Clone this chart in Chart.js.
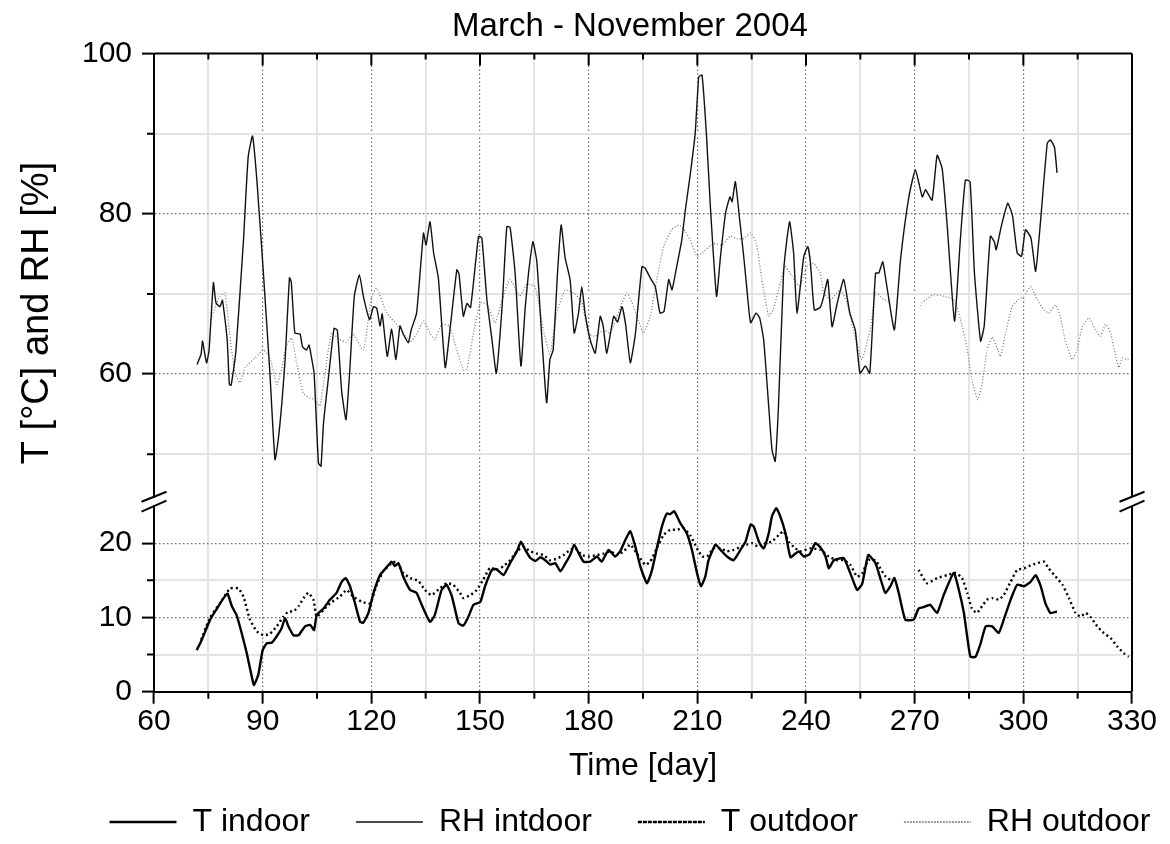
<!DOCTYPE html>
<html>
<head>
<meta charset="utf-8">
<script src="https://cdn.jsdelivr.net/npm/chart.js@4.4.1/dist/chart.umd.min.js"></script>
<style>
html,body{margin:0;padding:0;background:#fff;}
#wrap{width:1170px;height:844px;}
</style>
</head>
<body>
<div id="wrap"><canvas id="c" width="1170" height="844"></canvas></div>
<script>
// ---------- text ----------
const chartTitle = 'March - November 2004';
const xTitle = 'Time [day]';
const yTitle = 'T [\u00B0C] and RH [%]';
const seriesNames = ['T indoor', 'RH intdoor', 'T outdoor', 'RH outdoor'];

// ---------- ticks ----------
const xTickValues = [60,75,90,105,120,135,150,165,180,195,210,225,240,255,270,285,300,315,330];
const xTickLabels = [60,90,120,150,180,210,240,270,300,330];
const rhTickValues = [50,60,70,80,90,100];
const rhTickLabels = [60,80,100];
const tTickValues = [0,5,10,15,20];
const tTickLabels = [0,10,20];

// ---------- data (day, value) ----------
const tInDays = [71.8,73.2,75.5,77.4,79.2,80.3,81.5,82.8,84.2,85.6,87.0,87.6,88.8,90.0,91.1,92.5,93.8,95.2,96.2,97.1,98.5,99.9,101.7,103.1,104.2,104.9,106.8,108.6,110.4,111.8,112.9,114.1,115.5,116.9,117.8,119.2,120.6,122.4,124.3,125.6,126.5,127.5,128.8,130.7,132.5,133.9,136.2,137.5,139.4,140.8,142.2,144.1,145.4,146.8,148.2,150.1,151.4,153.3,154.5,156.5,158.3,160.2,161.3,162.5,163.9,165.3,166.7,168.0,169.4,170.8,172.2,173.5,174.9,176.0,177.2,178.6,180.4,182.3,183.6,185.5,187.3,188.7,190.1,191.5,192.9,194.3,196.1,197.5,198.9,200.2,201.6,202.5,203.6,205.3,207.1,208.5,209.9,211.0,212.2,213.1,215.0,216.4,218.2,220.0,221.9,223.3,224.7,225.6,227.0,228.3,229.7,230.6,231.8,232.9,234.3,235.7,237.1,238.0,239.4,241.0,242.6,244.0,245.4,246.3,247.7,250.4,252.2,254.1,255.5,257.2,259.2,260.5,261.9,263.3,264.4,265.6,267.4,269.7,271.1,272.5,274.3,276.2,278.0,280.8,282.2,283.6,284.5,285.4,286.8,288.2,289.6,291.4,293.2,294.6,296.5,298.3,300.2,302.0,303.4,304.8,306.1,307.5,309.3];
const tInVals = [5.6,7.0,9.7,11.2,12.6,13.2,11.5,10.3,7.9,5.2,2.0,0.9,2.3,5.6,6.5,6.6,7.4,8.5,9.9,8.8,7.6,7.6,8.8,9.0,8.3,10.3,11.2,12.4,13.3,14.8,15.3,14.2,11.9,9.4,9.3,10.6,13.3,15.7,16.8,17.5,16.9,17.3,15.5,13.7,13.3,11.7,9.4,10.3,13.7,14.4,12.9,9.2,8.9,10.1,11.7,12.1,14.2,16.4,16.5,15.7,17.3,18.9,20.2,19.1,18.0,17.6,18.1,17.7,17.1,17.3,16.2,17.2,18.4,19.8,18.7,17.5,17.5,18.2,17.5,19.1,18.2,18.9,20.4,21.6,19.5,16.8,14.6,16.4,19.5,22.2,24.0,23.9,24.3,22.7,21.3,19.1,16.0,14.2,15.5,17.7,19.8,19.1,18.2,17.7,19.1,20.2,22.5,22.2,20.2,19.3,21.3,23.6,24.7,23.6,21.4,18.1,18.6,18.9,18.2,18.5,20.0,19.4,18.2,16.6,17.7,18.0,16.0,13.7,14.5,18.4,17.3,15.3,13.3,14.2,15.3,13.3,9.7,9.7,11.2,11.4,11.7,10.6,13.0,16.0,13.7,10.6,7.4,4.7,4.7,6.5,8.8,8.8,7.9,9.7,12.4,14.4,14.2,14.8,15.7,14.2,11.9,10.6,10.8];

const rhInDays = [71.9,73.0,73.4,74.5,75.2,76.4,77.1,78.2,78.9,80.2,80.8,81.3,82.6,84.7,86.0,87.2,88.4,90.2,92.0,93.4,94.3,95.3,96.2,97.4,97.9,98.9,100.3,101.0,102.1,102.8,103.5,104.2,105.4,106.1,106.8,108.2,109.7,110.6,111.8,113.0,114.0,115.3,116.7,117.8,119.5,120.6,121.5,122.4,123.0,124.4,125.6,126.8,127.9,128.8,130.2,131.0,132.5,134.4,135.1,136.2,137.2,138.5,140.4,141.8,143.6,144.2,145.4,146.4,147.4,149.6,150.5,151.9,153.3,154.5,156.1,157.4,158.3,159.7,161.3,162.5,163.4,164.6,165.7,167.1,168.4,169.3,170.2,171.4,172.4,173.5,174.9,176.0,177.2,178.1,179.0,180.4,181.8,183.2,184.0,185.0,186.9,188.0,189.2,190.2,191.5,192.9,194.7,195.6,197.0,198.4,199.7,200.8,202.1,203.0,204.3,205.7,206.7,208.1,209.4,210.4,211.3,212.5,213.6,215.3,216.4,217.8,219.0,219.6,220.5,221.7,222.8,223.7,224.7,226.2,227.2,228.3,229.7,230.6,231.5,232.4,233.8,234.7,235.5,236.6,237.5,239.4,240.5,241.2,242.3,243.9,244.8,246.0,247.2,248.6,250.4,252.1,253.6,254.9,256.4,257.6,259.2,260.1,261.2,262.3,264.4,266.1,268.4,270.2,272.1,273.0,274.8,276.2,277.6,279.0,281.0,282.6,284.0,285.3,286.5,288.2,289.2,290.9,292.0,292.5,293.9,295.7,297.0,298.3,299.5,300.6,302.1,303.4,304.7,306.6,307.5,308.6,309.3];
const rhInVals = [61.2,62.5,64.1,61.4,63.0,71.4,68.9,68.4,69.2,64.3,58.7,58.6,62.8,76.7,87.1,89.7,84.2,72.6,60.1,49.3,51.8,56.4,61.8,72.0,71.5,65.1,65.0,63.4,63.0,63.6,62.0,60.1,48.9,48.5,53.9,59.7,65.7,65.5,57.9,54.3,60.1,69.7,72.4,69.7,66.8,68.4,68.2,66.0,67.5,62.2,65.6,61.8,66.0,65.0,63.9,65.5,67.6,77.6,76.1,79.0,75.1,72.0,60.8,65.9,73.0,72.5,67.2,68.8,68.3,77.2,77.0,69.3,64.3,60.1,68.4,78.4,78.3,72.6,61.0,68.4,72.6,76.5,74.0,64.3,56.4,61.8,63.0,72.6,78.6,74.5,71.7,65.1,67.6,70.9,67.6,64.3,62.6,67.2,66.0,62.6,67.2,66.5,68.4,66.2,61.4,65.0,73.4,73.2,72.0,70.9,67.6,67.8,71.8,70.5,73.4,76.7,80.5,85.1,90.0,97.1,97.3,90.0,80.9,69.7,74.7,80.1,82.1,81.5,84.0,79.2,74.7,70.5,66.4,67.6,67.0,64.3,56.0,50.6,49.1,56.0,72.6,76.7,79.0,75.0,67.6,74.7,75.9,74.0,68.0,68.3,69.5,71.8,65.9,68.8,71.8,67.6,65.5,60.1,61.0,60.1,72.6,72.6,74.0,71.0,65.5,74.3,82.1,85.5,82.1,83.0,81.7,87.3,85.6,78.4,66.6,76.7,84.2,84.0,72.6,64.1,66.0,77.2,76.5,75.5,78.4,81.3,79.8,75.1,74.7,78.0,77.0,72.8,78.8,88.8,89.2,88.3,85.1];

const tOutDays = [73.0,75.5,78.2,81.0,83.3,84.7,86.5,88.4,90.2,92.0,93.9,95.7,97.1,98.5,99.9,101.3,102.6,104.0,104.9,106.8,108.6,111.3,113.2,115.0,117.4,119.7,121.5,123.3,125.6,127.0,128.8,130.7,133.0,134.8,136.6,138.9,140.8,142.6,144.5,145.4,147.3,149.1,150.9,152.8,154.7,156.5,158.3,160.2,162.0,163.9,165.7,167.5,169.4,171.2,173.1,174.9,176.3,178.1,179.9,182.3,184.1,186.0,187.8,189.7,191.5,193.3,195.6,197.0,198.8,200.7,202.5,204.4,206.2,208.1,209.9,211.3,212.7,214.5,216.4,218.2,220.0,221.9,223.7,225.1,226.9,228.8,230.6,232.5,233.8,235.2,236.6,238.4,241.2,244.0,246.3,248.6,250.4,252.2,254.1,255.5,257.2,259.2,260.5,262.0,264.0,267.5,271.1,273.4,276.2,279.0,281.3,283.1,284.5,285.8,287.2,288.6,290.0,291.4,293.2,294.6,296.5,298.3,300.2,302.0,303.8,305.7,307.0,308.9,310.8,312.6,314.4,315.8,317.2,318.5,320.4,322.2,324.1,325.9,327.7,329.1];
const tOutVals = [7.0,10.0,11.9,13.9,13.9,12.8,9.7,8.1,7.6,7.8,8.8,10.1,10.8,10.8,11.5,12.6,13.3,12.4,10.1,11.0,11.9,12.8,13.7,12.8,12.1,11.9,14.4,16.2,17.3,17.5,16.0,15.3,14.9,13.7,13.0,13.9,14.6,14.4,13.3,12.6,13.0,13.7,15.1,16.7,16.4,16.9,17.7,18.9,19.5,18.9,18.6,18.4,17.7,17.9,18.4,19.1,19.3,18.4,18.2,18.4,18.6,18.9,18.4,18.9,19.8,18.6,17.1,17.5,19.3,21.1,21.8,21.8,22.0,21.0,19.3,18.2,18.2,19.3,19.3,18.9,19.1,19.5,19.8,20.0,19.5,20.0,20.2,21.1,21.6,20.2,19.5,18.9,19.3,19.1,18.2,17.7,17.7,17.1,15.5,15.9,17.7,17.7,16.6,15.5,14.8,null,16.4,14.6,15.3,15.7,16.0,15.3,13.3,11.2,10.6,11.5,12.4,12.6,12.4,13.0,14.8,16.4,16.6,17.0,17.3,17.5,16.6,15.5,14.4,12.6,10.6,10.1,10.6,10.1,8.8,7.9,7.2,6.1,5.2,4.7];

const rhOutDays = [75.5,77.0,78.2,79.6,80.9,82.3,83.7,85.1,87.9,90.2,92.0,93.9,95.0,96.5,98.0,99.4,101.2,103.0,104.4,105.8,107.2,109.0,111.3,113.1,114.9,117.8,120.1,121.5,124.3,127.0,128.8,130.7,132.5,134.4,136.2,137.5,139.4,141.5,143.6,145.4,146.4,148.2,150.1,151.9,154.2,156.1,158.3,161.0,162.9,165.2,167.5,169.3,171.2,173.5,175.8,178.1,179.9,181.8,184.1,185.9,187.8,189.2,190.5,191.9,193.8,195.1,197.0,198.8,200.7,202.9,204.8,206.2,208.1,209.9,211.8,214.5,216.8,219.1,220.9,222.8,224.7,226.3,227.8,229.7,231.0,232.9,234.2,236.1,238.2,240.3,242.1,244.0,244.9,246.8,249.5,251.3,253.1,255.4,257.9,259.2,261.5,263.5,267.5,271.5,272.1,275.2,278.0,280.8,282.6,284.4,285.8,287.4,288.6,290.0,291.4,292.7,293.7,295.0,296.9,298.7,300.1,302.0,303.8,305.7,307.0,308.9,310.2,311.5,313.5,314.8,316.3,318.1,320.0,321.3,322.7,324.1,325.5,326.4,327.3,328.7,329.5];
const rhOutVals = [66.5,68.5,69.7,70.1,65.0,60.2,58.9,60.8,62.0,63.0,62.0,58.7,60.1,63.4,64.5,61.3,57.6,57.0,56.8,56.0,60.0,65.1,64.3,64.0,65.0,63.0,69.7,70.7,67.6,66.2,65.1,64.0,65.0,66.6,65.1,64.3,66.2,66.0,63.0,60.5,60.6,65.1,68.9,68.7,66.4,69.3,71.8,69.7,71.2,70.9,65.5,62.5,67.6,70.5,70.1,69.0,65.1,64.7,65.5,65.1,67.2,68.9,70.1,69.0,66.6,65.1,67.2,71.8,75.9,78.0,78.6,78.1,76.7,74.7,75.3,76.3,76.1,77.2,76.9,76.9,77.6,76.3,71.8,67.2,68.1,71.3,73.5,72.2,71.0,73.4,73.8,72.5,70.1,69.3,70.5,68.9,65.5,61.8,65.9,70.1,69.3,69.0,null,68.5,68.9,69.9,69.7,69.3,66.9,63.4,59.3,56.8,58.7,63.0,64.6,63.3,62.2,64.9,68.4,69.3,69.7,70.9,69.3,68.0,67.6,68.6,67.2,64.3,61.8,63.0,65.9,67.0,65.5,64.7,66.2,65.1,62.2,60.8,62.0,61.8,62.0];

const rhMinorTicks = [50,70,90];
const tMinorTicks = [5,15];

// ---------- helpers ----------
const pts = (days, vals) => days.map((d, i) => ({x: d, y: vals[i]}));
const FONT = "'Liberation Sans', Arial, Helvetica, sans-serif";
Chart.defaults.font.family = FONT;
Chart.defaults.color = '#000';

const MAJOR_GRID = '#6a6a6a';
const MINOR_GRID = '#e4e4e4';
const DOT = [1.5, 2.5];

const decor = {
  id: 'decor',
  afterDraw(chart) {
    const {ctx, chartArea: a, scales} = chart;
    const x = scales.x, yR = scales.yRH, yT = scales.yT;
    ctx.save();
    ctx.setLineDash([]);
    ctx.strokeStyle = '#000';
    ctx.lineWidth = 2;
    ctx.beginPath();
    ctx.moveTo(a.left, yR.top); ctx.lineTo(a.right, yR.top);
    ctx.moveTo(a.right, yR.top); ctx.lineTo(a.right, yR.bottom);
    ctx.moveTo(a.right, yT.top); ctx.lineTo(a.right, yT.bottom);
    ctx.stroke();
    ctx.beginPath();
    xTickValues.forEach(v => {
      const px = x.getPixelForValue(v);
      const major = xTickLabels.includes(v);
      if (v > x.min && v < x.max) {
        ctx.moveTo(px, yR.top); ctx.lineTo(px, yR.top + (major ? 12 : 6));
      }
      if (!major) { ctx.moveTo(px, a.bottom); ctx.lineTo(px, a.bottom + 7); }
    });
    rhMinorTicks.forEach(v => { const py = yR.getPixelForValue(v); ctx.moveTo(a.left - 7, py); ctx.lineTo(a.left, py); });
    tMinorTicks.forEach(v => { const py = yT.getPixelForValue(v); ctx.moveTo(a.left - 7, py); ctx.lineTo(a.left, py); });
    ctx.stroke();
    // axis breaks
    const c = (yR.bottom + yT.top) / 2;
    ctx.lineWidth = 2;
    [a.left, a.right].forEach(bx => {
      ctx.beginPath();
      ctx.moveTo(bx - 12.5, c + 0.2); ctx.lineTo(bx + 12.5, c - 9.8);
      ctx.moveTo(bx - 12.5, c + 10.2); ctx.lineTo(bx + 12.5, c - 0.8);
      ctx.stroke();
    });
    // y axis title
    ctx.translate(38, 313);
    ctx.rotate(-Math.PI / 2);
    ctx.font = '38px ' + FONT;
    ctx.fillStyle = '#000';
    ctx.textAlign = 'center';
    ctx.textBaseline = 'middle';
    ctx.fillText(yTitle, 0, 0);
    ctx.restore();
  }
};

const yWidth = 102;

new Chart(document.getElementById('c'), {
  type: 'line',
  data: {
    datasets: [
      {label: seriesNames[0], data: pts(tInDays, tInVals), yAxisID: 'yT', borderColor: '#000', backgroundColor: 'transparent', borderWidth: 2.4, tension: 0.15},
      {label: seriesNames[1], data: pts(rhInDays, rhInVals), yAxisID: 'yRH', borderColor: '#111', backgroundColor: 'transparent', borderWidth: 1.4, tension: 0.15},
      {label: seriesNames[2], data: pts(tOutDays, tOutVals), yAxisID: 'yT', borderColor: '#000', backgroundColor: 'transparent', borderWidth: 2.4, borderDash: [2, 3], tension: 0.15},
      {label: seriesNames[3], data: pts(rhOutDays, rhOutVals), yAxisID: 'yRH', borderColor: '#7a7a7a', backgroundColor: 'transparent', borderWidth: 1.3, borderDash: [1, 2], tension: 0.15}
    ]
  },
  options: {
    responsive: false,
    animation: false,
    devicePixelRatio: 1,
    spanGaps: false,
    elements: {point: {radius: 0, hoverRadius: 0}},
    layout: {padding: {left: 48, right: -42, top: 0, bottom: -4}},
    plugins: {
      tooltip: {enabled: false},
      title: {display: true, text: chartTitle, color: '#000', font: {size: 33, weight: 'normal'}, padding: {top: 7.3, bottom: 6.6}},
      legend: {
        position: 'bottom',
        labels: {
          color: '#000', font: {size: 32}, usePointStyle: false, boxWidth: 67, boxHeight: 0, padding: 46
        }
      }
    },
    scales: {
      x: {
        type: 'linear', position: 'bottom', min: 60, max: 330,
        afterBuildTicks: s => { s.ticks = xTickValues.map(v => ({value: v})); },
        ticks: {autoSkip: false, maxRotation: 0, padding: 0, font: {size: 30}, color: '#000',
          callback: v => xTickLabels.includes(v) ? String(v) : ''},
        grid: {
          color: c => { const v = c.tick && c.tick.value; if (v === 60 || v === 330) return 'transparent'; return xTickLabels.includes(v) ? MAJOR_GRID : MINOR_GRID; },
          lineWidth: c => (c.tick && xTickLabels.includes(c.tick.value)) ? 1.2 : 2,
          tickColor: c => (c.tick && xTickLabels.includes(c.tick.value)) ? '#000' : 'transparent',
          tickLength: 12, tickWidth: 2
        },
        border: {display: true, color: '#000', width: 2, dash: c => (c.tick && xTickLabels.includes(c.tick.value)) ? DOT : []},
        title: {display: true, text: xTitle, color: '#000', font: {size: 32}, padding: {top: 7.1, bottom: -25.2}}
      },
      yT: {
        type: 'linear', position: 'left', stack: 'v', stackWeight: 185.7, weight: 1, min: 0, max: 25,
        afterFit: s => { s.width = yWidth + 4; },
        afterBuildTicks: s => { s.ticks = tTickValues.map(v => ({value: v})); },
        ticks: {autoSkip: false, padding: 10, font: {size: 30}, color: '#000',
          callback: v => tTickLabels.includes(v) ? String(v) : ''},
        grid: {
          color: c => { const v = c.tick && c.tick.value; if (v === 0) return 'transparent'; return tTickLabels.includes(v) ? MAJOR_GRID : MINOR_GRID; },
          lineWidth: c => (c.tick && tTickLabels.includes(c.tick.value)) ? 1.2 : 2,
          tickColor: c => (c.tick && tTickLabels.includes(c.tick.value)) ? '#000' : 'transparent',
          tickLength: 12, tickWidth: 2
        },
        border: {display: true, color: '#000', width: 2, dash: c => (c.tick && tTickLabels.includes(c.tick.value)) ? DOT : []}
      },
      yGap: {
        type: 'linear', position: 'left', stack: 'v', stackWeight: 9, weight: 2, min: 0, max: 1,
        afterFit: s => { s.width = yWidth + 4; },
        ticks: {display: false},
        grid: {display: false, drawTicks: false},
        border: {display: false}
      },
      yRH: {
        type: 'linear', position: 'left', stack: 'v', stackWeight: 443.5, weight: 3, min: 44.65, max: 100,
        afterFit: s => { s.width = yWidth + 4; },
        afterBuildTicks: s => { s.ticks = rhTickValues.map(v => ({value: v})); },
        ticks: {autoSkip: false, padding: 10, font: {size: 30}, color: '#000',
          callback: v => rhTickLabels.includes(v) ? String(v) : ''},
        grid: {
          color: c => { const v = c.tick && c.tick.value; if (v === 100) return 'transparent'; return rhTickLabels.includes(v) ? MAJOR_GRID : MINOR_GRID; },
          lineWidth: c => (c.tick && rhTickLabels.includes(c.tick.value)) ? 1.2 : 2,
          tickColor: c => (c.tick && rhTickLabels.includes(c.tick.value)) ? '#000' : 'transparent',
          tickLength: 12, tickWidth: 2
        },
        border: {display: true, color: '#000', width: 2, dash: c => (c.tick && rhTickLabels.includes(c.tick.value)) ? DOT : []}
      },
      yRight: {
        type: 'linear', position: 'right', min: 0, max: 1,
        afterFit: s => { s.width = 80; },
        ticks: {display: false},
        grid: {display: false, drawTicks: false},
        border: {display: false}
      }
    }
  },
  plugins: [decor]
});
</script>
</body>
</html>
